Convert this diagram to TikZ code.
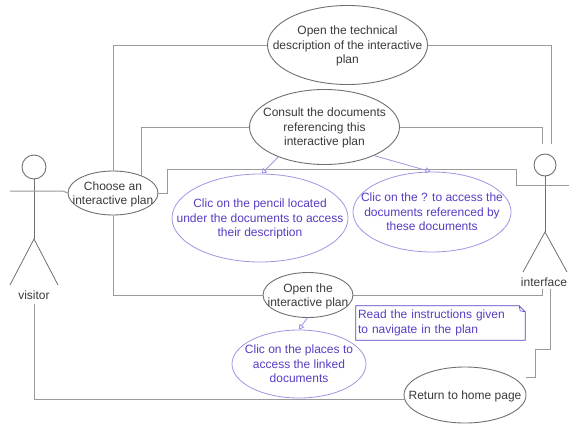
\documentclass[tikz,border=0pt]{standalone}
\usepackage{fontspec}
\setmainfont{Liberation Sans}
\usetikzlibrary{shapes.geometric,arrows.meta,calc}
\definecolor{wire}{HTML}{9A9A9A}
\definecolor{edgegrey}{HTML}{707070}
\definecolor{txt}{HTML}{3A3A3A}
\definecolor{vio}{HTML}{5A3CC4}
\definecolor{violine}{HTML}{A294E2}
\newcommand\casetext[1]{\makebox[0pt]{\raisebox{-4.5pt}[0pt][0pt]{\begin{tabular}{@{}c@{}}#1\end{tabular}}}}
\tikzset{
  x=1pt,y=-1pt,
  usecase/.style={ellipse,draw=edgegrey,line width=0.9pt,fill=white,inner sep=0pt,text=txt,font=\fontsize{12}{14.5}\selectfont},
  subcase/.style={ellipse,draw=violine,line width=0.8pt,fill=white,inner sep=0pt,text=vio,font=\fontsize{12}{14.5}\selectfont},
  wireline/.style={draw=wire,line width=1pt},
  actorline/.style={draw=edgegrey,line width=0.8pt},
  include/.style={draw=violine,line width=0.8pt,-{Triangle[open,length=5pt,width=6pt]}},
  actorlabel/.style={inner sep=0pt,text=txt,font=\fontsize{12}{14}\selectfont},
  headc/.style={circle,draw=edgegrey,line width=0.9pt,inner sep=0pt}
}
\begin{document}
\begin{tikzpicture}
\useasboundingbox (0,0) rectangle (569,423);
% use cases
\node[usecase,minimum width=160pt,minimum height=79pt] (tech) at (347.5,45) {\casetext{Open the technical\\description of the interactive\\plan}};
\node[usecase,minimum width=150pt,minimum height=75pt] (consult) at (324.5,127) {\casetext{Consult the documents\\referencing this\\interactive plan}};
\node[usecase,minimum width=90pt,minimum height=44pt] (choose) at (113,193) {\casetext{Choose an\\interactive plan}};
\node[subcase,minimum width=176pt,minimum height=88pt] (pencil) at (260,218) {\casetext{Clic on the pencil located\\under the documents to access\\their description}};
\node[subcase,minimum width=158pt,minimum height=80pt] (quest) at (432,212) {\casetext{Clic on the ? to access the\\documents referenced by\\these documents}};
\node[usecase,minimum width=90pt,minimum height=45pt] (open) at (308,295) {\casetext{Open the\\interactive plan}};
\node[subcase,minimum width=134pt,minimum height=68pt] (places) at (299,364) {\casetext{Clic on the places to\\access the linked\\documents}};
\node[usecase,minimum width=122pt,minimum height=56pt] (home) at (465,395) {\casetext{Return to home page}};
% note
\node[inner sep=2pt,text width=165pt,minimum height=34pt,align=left,text=vio,font=\fontsize{12}{14.5}\selectfont] (note) at (440.5,323) {\raisebox{-1pt}{Read the instructions given}\\\raisebox{-1pt}{to navigate in the plan}};
\draw[draw=vio,line width=0.8pt] (note.north west) -- ($(note.north east)+(-6,0)$) -- ($(note.north east)+(0,6)$) -- (note.south east) -- (note.south west) -- cycle;
\draw[draw=vio,line width=0.6pt] ($(note.north east)+(-6,0)$) -- ($(note.north east)+(-5,5)$) -- ($(note.north east)+(0,6)$);
% left actor
\node[headc,minimum size=24pt] (vhead) at (34,167) {};
\coordinate (vhip) at (34,239);
\coordinate (varm) at (10,191);
\coordinate (vll) at (10,285);
\coordinate (vrl) at (58,285);
\node[actorlabel] (visitor) at (34,295) {visitor};
\draw[actorline] (vhead) -- (vhip);
\draw[actorline] (vll) -- (vhip) -- (vrl);
% right actor
\node[headc,minimum size=22pt] (ihead) at (545,165) {};
\coordinate (ihip) at (545,232);
\coordinate (ill) at (523,272);
\coordinate (irl) at (567,272);
\node[actorlabel] (iface) at (544,282) {interface};
\draw[actorline] (ihead) -- (ihip);
\draw[actorline] (ill) -- (ihip) -- (irl);
% connectors
\coordinate (a1) at (63,191);
\draw[wireline] (varm) -- (a1) -- (choose.west);
\draw[wireline] (choose.north) |- (tech.west);
\draw[wireline] (choose.31) |- (consult.west);
\draw[wireline] (choose.south) |- (open.west);
\coordinate (b1) at (167,193);
\coordinate (b2) at (167,169);
\coordinate (b3) at (516,169);
\coordinate (b4) at (516,185);
\coordinate (b5) at (569,185);
\draw[wireline] (choose.east) -- (b1) -- (b2) -- (b3) -- (b4) -- (b5);
\coordinate (t1) at (551,45);
\coordinate (t2) at (551,144);
\draw[wireline] (tech.east) -- (t1) -- (t2);
\coordinate (c1) at (542,127);
\coordinate (c2) at (542,144);
\draw[wireline] (consult.east) -- (c1) -- (c2);
\coordinate (o1) at (542,295);
\coordinate (o2) at (542,289);
\draw[wireline] (open.east) -- (o1) -- (o2);
\coordinate (v1) at (34,304);
\coordinate (v2) at (34,399);
\draw[wireline] (v1) -- (v2) -- (home.west |- v2);
\coordinate (h0) at (526,377);
\coordinate (h1) at (535,377);
\coordinate (h2) at (535,349);
\coordinate (h3) at (550,349);
\coordinate (h4) at (550,289);
\draw[wireline] (home.east |- h0) -- (h1) -- (h2) -- (h3) -- (h4);
% include relations
\draw[include] (consult.-147) -- (pencil.88);
\draw[include] (consult.-30) -- (quest.92);
\draw[include] (open.-92) -- (places.90);
\end{tikzpicture}
\end{document}
